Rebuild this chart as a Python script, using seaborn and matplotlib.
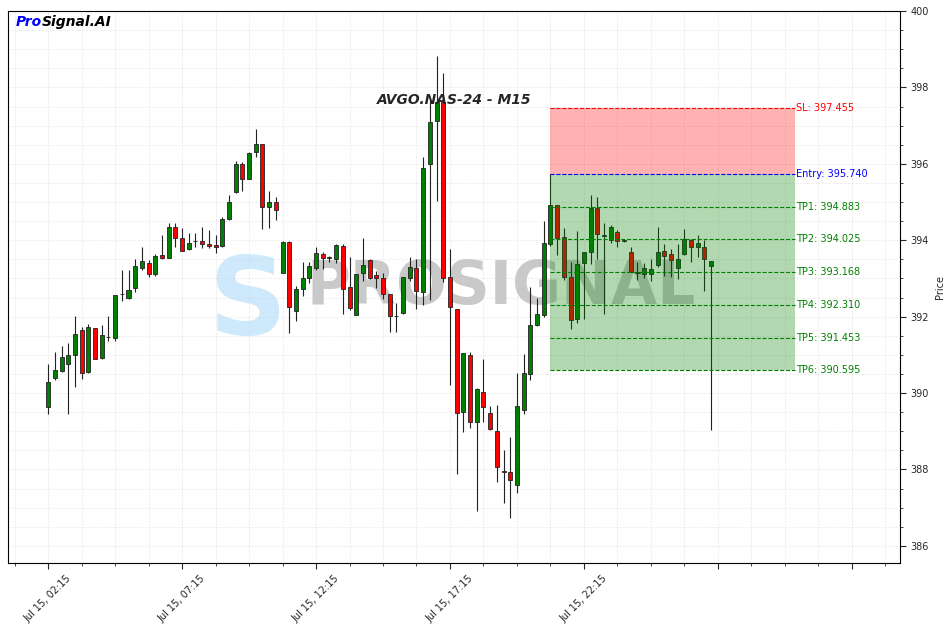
import numpy as np
import pandas as pd
import matplotlib
matplotlib.use("Agg")
import matplotlib.pyplot as plt
import seaborn as sns
from matplotlib.ticker import MultipleLocator, FuncFormatter

# 15-minute candles, starting Jul 15 02:15
start_time = "2024-07-15 02:15"
opens = [389.63, 390.40, 390.57, 390.75, 390.99, 391.64, 390.54, 391.70, 390.91, 391.47,
         391.43, 392.60, 392.48, 392.74, 393.28, 393.40, 393.11, 393.61, 393.53, 394.34,
         394.05, 393.78, 393.97, 393.99, 393.90, 393.87, 393.84, 394.55, 395.25, 395.99,
         395.61, 396.30, 396.51, 394.86, 394.99, 393.13, 393.95, 392.15, 392.72, 393.00,
         393.28, 393.63, 393.54, 393.50, 393.84, 392.77, 392.04, 393.14, 393.47, 393.08,
         393.00, 392.58, 392.02, 392.09, 393.00, 393.27, 392.64, 395.99, 397.12, 397.63,
         393.05, 392.19, 389.50, 391.00, 389.24, 390.02, 389.47, 389.00, 387.97, 387.93,
         387.59, 389.56, 390.49, 391.77, 392.04, 393.89, 394.92, 394.09, 393.03, 391.93,
         393.40, 393.69, 394.84, 394.12, 394.01, 394.21, 394.00, 393.70, 393.17, 393.12,
         393.12, 393.34, 393.72, 393.64, 393.28, 393.63, 394.01, 393.83, 393.81, 393.33]
highs = [390.76, 391.07, 391.23, 391.30, 392.01, 391.73, 391.80, 391.71, 391.77, 392.01,
         392.57, 393.21, 393.21, 393.50, 393.81, 393.48, 393.64, 394.13, 394.46, 394.46,
         394.31, 394.18, 394.18, 394.34, 394.27, 394.13, 394.62, 395.19, 396.07, 396.05,
         396.31, 396.90, 396.52, 395.30, 395.12, 393.97, 393.97, 392.80, 393.44, 393.44,
         393.82, 393.70, 393.59, 393.89, 393.89, 393.55, 393.11, 394.05, 393.50, 393.20,
         393.13, 392.58, 392.35, 393.05, 393.57, 393.50, 396.17, 397.67, 398.82, 398.39,
         393.76, 392.19, 391.06, 391.07, 390.12, 390.88, 389.66, 389.68, 388.51, 388.84,
         390.53, 391.02, 392.77, 392.48, 394.51, 395.73, 394.92, 394.33, 393.44, 394.24,
         393.70, 395.19, 395.12, 394.45, 394.40, 394.27, 394.04, 393.81, 393.44, 393.40,
         393.50, 394.34, 393.89, 393.76, 393.89, 394.29, 394.02, 394.13, 394.01, 393.46]
lows = [389.45, 390.34, 390.55, 389.45, 390.17, 390.36, 390.52, 390.88, 390.89, 391.36,
        391.36, 392.40, 392.46, 392.64, 393.21, 393.03, 393.07, 393.51, 393.53, 393.81,
        393.71, 393.75, 393.81, 393.79, 393.79, 393.67, 393.82, 394.53, 395.24, 395.28,
        395.59, 396.19, 394.29, 394.31, 394.53, 393.13, 391.56, 391.89, 392.54, 392.87,
        393.22, 393.24, 393.44, 393.40, 392.06, 392.17, 392.04, 392.93, 392.99, 392.76,
        392.47, 391.61, 391.61, 392.07, 392.92, 392.19, 392.31, 392.44, 395.03, 392.90,
        390.21, 387.88, 388.97, 389.08, 386.90, 389.25, 389.03, 387.67, 387.11, 386.72,
        387.39, 389.45, 390.34, 391.76, 392.00, 393.85, 393.61, 392.96, 391.67, 391.84,
        391.93, 393.37, 393.50, 392.07, 393.92, 393.83, 393.96, 393.18, 392.96, 393.00,
        392.93, 393.29, 393.07, 393.03, 392.98, 393.61, 393.44, 393.55, 392.67, 389.02]
closes = [390.28, 390.60, 390.94, 390.99, 391.54, 390.52, 391.72, 390.90, 391.51, 391.47,
          392.56, 392.58, 392.70, 393.32, 393.45, 393.11, 393.58, 393.53, 394.34, 394.05,
          393.73, 393.92, 393.99, 393.90, 393.86, 393.81, 394.56, 394.99, 395.99, 395.59,
          396.28, 396.51, 394.86, 394.99, 394.78, 393.95, 392.24, 392.72, 393.00, 393.33,
          393.66, 393.53, 393.55, 393.87, 392.72, 392.22, 393.11, 393.34, 393.00, 393.00,
          392.58, 392.02, 392.02, 393.03, 393.29, 392.67, 395.88, 397.09, 397.63, 393.02,
          392.24, 389.47, 391.04, 389.24, 390.10, 389.63, 389.05, 388.06, 387.93, 387.73,
          389.66, 390.52, 391.77, 392.06, 393.92, 394.92, 394.05, 393.03, 391.90, 393.37,
          393.69, 394.84, 394.16, 394.14, 394.34, 393.98, 393.99, 393.18, 393.15, 393.27,
          393.24, 393.68, 393.60, 393.47, 393.50, 394.02, 393.83, 393.92, 393.50, 393.46]

# trade levels
level_names = ["SL", "Entry", "TP1", "TP2", "TP3", "TP4", "TP5", "TP6"]
level_values = [397.455, 395.740, 394.883, 394.025, 393.168, 392.310, 391.453, 390.595]
level_colors = ["red", "blue", "green", "green", "green", "green", "green", "green"]
zone_start, zone_end = 75, 111.5

df = pd.DataFrame({"open": opens, "high": highs, "low": lows, "close": closes})
df["time"] = pd.date_range(start_time, periods=len(df), freq="15min")
df["idx"] = np.arange(len(df))

sns.set_style("white")
plt.rcParams["font.family"] = ["DejaVu Sans"]

fig, ax = plt.subplots(figsize=(9.47, 6.3), dpi=100)
fig.subplots_adjust(left=0.0084, right=0.9504, top=0.9825, bottom=0.1063)

# watermark
ax.text(0.268, 0.47, "S", transform=ax.transAxes, fontsize=78, fontweight="heavy",
        color="#cde9fb", ha="center", va="center", zorder=0)
ax.text(0.553, 0.50, "PROSIGNAL", transform=ax.transAxes, fontsize=43, fontweight="bold",
        color="gray", alpha=0.42, ha="center", va="center", zorder=0)

# candles
up = df["close"] >= df["open"]
body_col = np.where(up, "green", "red")
ax.vlines(df["idx"], df["low"], df["high"], color="#222222", lw=0.8, zorder=2)
ax.bar(df["idx"], (df["close"] - df["open"]).abs(), bottom=df[["open", "close"]].min(axis=1),
       width=0.6, color=body_col, edgecolor="#222222", linewidth=0.6, zorder=3)

# trade zones
sl, entry, tp6 = level_values[0], level_values[1], level_values[-1]
ax.fill_between([zone_start, zone_end], entry, sl, color="red", alpha=0.3, lw=0, zorder=4)
ax.fill_between([zone_start, zone_end], tp6, entry, color="green", alpha=0.3, lw=0, zorder=4)
for name, val, col in zip(level_names, level_values, level_colors):
    ax.hlines(val, zone_start, zone_end, colors=col, linestyles="--", lw=0.8, zorder=5)
    ax.text(zone_end + 0.1, val, f"{name}: {val:.3f}", color=col, fontsize=7,
            ha="left", va="center", zorder=6)

ax.text(0.5, 0.839, "AVGO.NAS-24 - M15", transform=ax.transAxes, ha="center", va="center",
        fontsize=10, fontweight="bold", fontstyle="italic")
ax.text(0.009, 0.98, "Pro", transform=ax.transAxes, ha="left", va="center",
        fontsize=10, fontweight="bold", fontstyle="italic", color="blue")
ax.text(0.0381, 0.98, "Signal.AI", transform=ax.transAxes, ha="left", va="center",
        fontsize=10, fontweight="bold", fontstyle="italic", color="black")

# axes
ax.set_xlim(-6, 127.2)
ax.set_ylim(385.55, 400)
ax.xaxis.set_major_locator(MultipleLocator(20))
ax.xaxis.set_minor_locator(MultipleLocator(5))
times = df["time"]


def fmt_time(x, pos):
    i = int(round(x))
    if 0 <= i < len(times):
        return times[i].strftime("%b %d, %H:%M")
    return ""


ax.xaxis.set_major_formatter(FuncFormatter(fmt_time))
ax.yaxis.set_major_locator(MultipleLocator(2))
ax.yaxis.set_minor_locator(MultipleLocator(0.5))
ax.yaxis.tick_right()
ax.yaxis.set_label_position("right")
ax.set_ylabel("Price", fontsize=7)
plt.setp(ax.get_xticklabels(), rotation=45, ha="center")
ax.tick_params(axis="both", which="major", labelsize=7, length=4, width=0.8,
               bottom=True, right=True, left=False)
ax.tick_params(axis="both", which="minor", length=2, width=0.6, bottom=True, right=True, left=False)
ax.grid(which="both", linestyle="--", linewidth=0.5, color="lightgray", alpha=0.5)
for sp in ax.spines.values():
    sp.set_color("black")
    sp.set_linewidth(0.8)

fig.savefig("out.png", dpi=100)
